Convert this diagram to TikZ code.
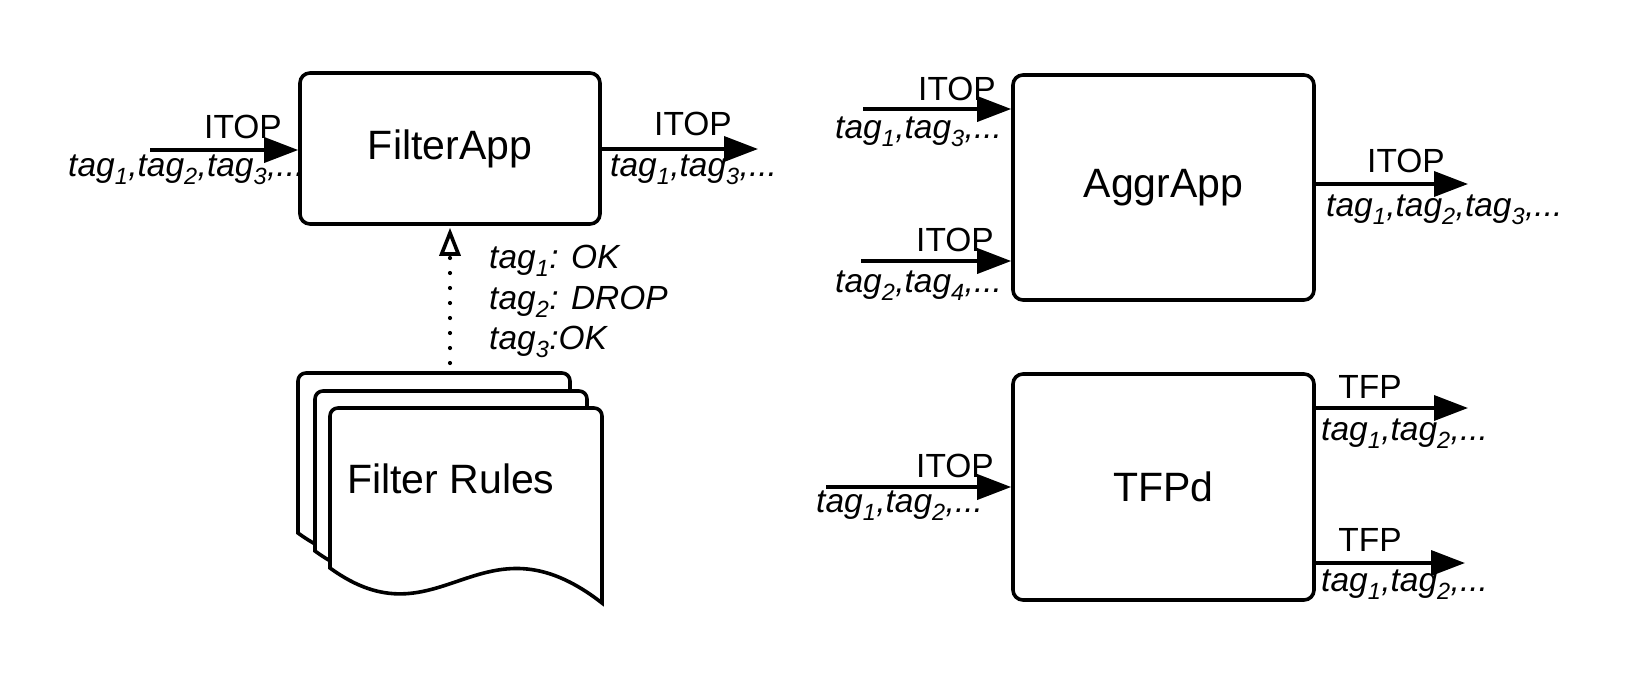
\documentclass[tikz,border=0pt]{standalone}
\usepackage{fontspec}
\setmainfont{Liberation Sans}
\usetikzlibrary{arrows.meta}
\begin{document}
\begin{tikzpicture}[x=1pt,y=-1pt,
  box/.style={draw, line width=3.6pt, rounded corners=10pt, inner sep=0pt,
    font=\fontsize{41}{48}\selectfont},
  arr/.style={line width=3.6pt, -{Triangle[length=34pt,width=25pt]}},
  lbl/.style={inner sep=0pt, font=\fontsize{33.5}{40}\selectfont},
  tg/.style={inner sep=0pt, font=\fontsize{33.5}{40}\selectfont\itshape},
  page/.style={draw, fill=white, line width=3.6pt, rounded corners=8pt}]
\useasboundingbox (0,0) rectangle (1650,675);

% ---- FilterApp ----
\node[box, minimum width=300pt, minimum height=151pt] (filter) at (450,148.5) {FilterApp};
\coordinate (fin) at (150,150);
\coordinate (fout) at (758,149);
\draw[arr] (fin) -- (fin -| filter.west);
\draw[arr] (fout -| filter.east) -- (fout);
\node[lbl, anchor=base] (fl1) at (243,138) {ITOP};
\node[tg, anchor=west] (fl2) at (68,170) {tag\textsubscript{1},tag\textsubscript{2},tag\textsubscript{3},...};
\node[lbl, anchor=base] (fl3) at (693,135) {ITOP};
\node[tg, anchor=west] (fl4) at (610,170) {tag\textsubscript{1},tag\textsubscript{3},...};

% ---- Filter Rules stack ----
\foreach \dx/\dy in {298/373, 315/391, 330/408}{
  \begin{scope}[shift={(\dx,\dy)}]
    \draw[page] (0,160) -- (0,0) -- (272,0) [sharp corners] -- (272,195)
      .. controls (150,100) and (110,240) .. (0,160) -- cycle;
  \end{scope}
}
\node[inner sep=0pt, anchor=west, font=\fontsize{41}{48}\selectfont] (rules) at (347,479) {Filter Rules};
\coordinate (rtop) at (450,363);
\draw[line width=4.2pt, line cap=round, dash pattern=on 0pt off 15pt,
  -{Triangle[open, length=28pt, width=21pt, line width=3.6pt]}, shorten >=2pt]
  (rtop) -- (rtop |- filter.south);
\node[tg, anchor=west] (r1) at (489,261) {tag\textsubscript{1}: OK};
\node[tg, anchor=west] (r2) at (489,302) {tag\textsubscript{2}: DROP};
\node[tg, anchor=west] (r3) at (489,342) {tag\textsubscript{3}:OK};

% ---- AggrApp ----
\node[box, minimum width=301pt, minimum height=225pt] (aggr) at (1163.5,187.5) {AggrApp};
\coordinate (ain1) at (863,109);
\coordinate (ain2) at (861,261);
\coordinate (aout) at (1468,184);
\draw[arr] (ain1) -- (ain1 -| aggr.west);
\draw[arr] (ain2) -- (ain2 -| aggr.west);
\draw[arr] (aout -| aggr.east) -- (aout);
\node[lbl, anchor=base] (al1) at (957,100) {ITOP};
\node[tg, anchor=west] (al2) at (835,132) {tag\textsubscript{1},tag\textsubscript{3},...};
\node[lbl, anchor=base] (al3) at (955,251) {ITOP};
\node[tg, anchor=west] (al4) at (835,286) {tag\textsubscript{2},tag\textsubscript{4},...};
\node[lbl, anchor=base] (al5) at (1406,172) {ITOP};
\node[tg, anchor=west] (al6) at (1326,210) {tag\textsubscript{1},tag\textsubscript{2},tag\textsubscript{3},...};

% ---- TFPd ----
\node[box, minimum width=301pt, minimum height=226pt] (tfpd) at (1163.5,487) {TFPd};
\coordinate (tin) at (826,487);
\coordinate (tout1) at (1468,408);
\coordinate (tout2) at (1465,563);
\draw[arr] (tin) -- (tin -| tfpd.west);
\draw[arr] (tout1 -| tfpd.east) -- (tout1);
\draw[arr] (tout2 -| tfpd.east) -- (tout2);
\node[lbl, anchor=base] (tl1) at (955,477) {ITOP};
\node[tg, anchor=west] (tl2) at (816,506) {tag\textsubscript{1},tag\textsubscript{2},...};
\node[lbl, anchor=base] (tl3) at (1370,398) {TFP};
\node[tg, anchor=west] (tl4) at (1321,434) {tag\textsubscript{1},tag\textsubscript{2},...};
\node[lbl, anchor=base] (tl5) at (1370,551) {TFP};
\node[tg, anchor=west] (tl6) at (1321,585) {tag\textsubscript{1},tag\textsubscript{2},...};
\end{tikzpicture}
\end{document}
